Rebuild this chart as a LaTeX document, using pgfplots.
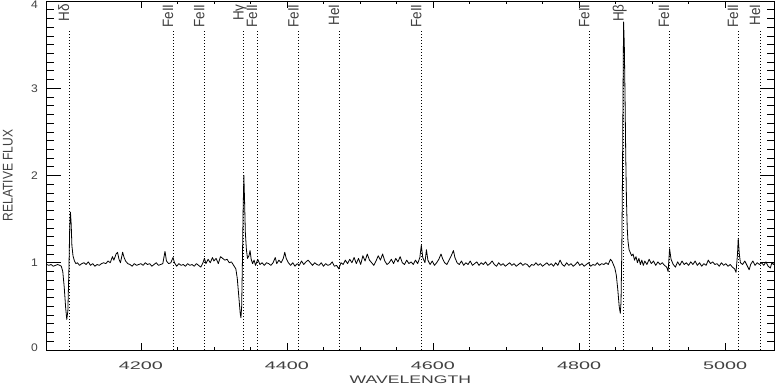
\documentclass[border=0pt]{standalone}
\usepackage{fontspec}
\setmainfont{Liberation Sans}
\newfontfamily\xtfont[FakeStretch=1.8]{Liberation Sans}
\newfontfamily\xlfont[FakeStretch=1.6]{Liberation Sans}
\newfontfamily\rotfont[FakeStretch=0.86]{Liberation Sans}
\newfontfamily\lblfont[FakeStretch=0.9]{Liberation Sans}
\newfontfamily\ytfont[FakeStretch=1.1]{Liberation Sans}
\usepackage{pgfplots}
\usepackage{pgfplotstable}
\pgfplotsset{compat=1.18}

\pgfplotstableread{
lam flux
4071 0.98
4074 0.97
4077 0.98
4080 0.96
4083 0.97
4086 0.98
4089 0.97
4091 0.96
4093 0.90
4095 0.72
4097 0.48
4098.5 0.35
4100 0.45
4101.5 0.95
4102.5 1.40
4103.5 1.58
4104.5 1.45
4105.5 1.20
4107 1.08
4109 1.02
4111 0.99
4113 1.00
4116 0.97
4119 0.99
4122 1.00
4125 0.98
4128 1.01
4131 0.97
4134 0.99
4137 0.96
4140 0.98
4143 0.97
4146 0.99
4149 1.00
4152 0.99
4155 1.02
4158 1.00
4161 1.07
4163 1.03
4166 1.10
4168 1.12
4170 1.04
4172 1.00
4175 1.12
4177 1.06
4179 1.02
4182 0.99
4185 0.98
4188 0.96
4191 0.99
4194 0.97
4197 0.98
4200 0.99
4203 0.97
4206 1.00
4209 0.98
4212 0.99
4215 0.96
4218 0.98
4221 1.00
4224 0.97
4227 0.98
4230 0.99
4233 1.13
4235 1.02
4238 0.99
4241 1.00
4244 1.06
4246 1.00
4249 0.96
4252 0.99
4255 0.97
4258 0.98
4261 0.96
4264 0.99
4267 0.97
4270 0.98
4273 0.96
4276 0.99
4279 0.97
4282 0.95
4285 1.00
4287 1.05
4289 0.99
4292 1.04
4295 1.00
4298 1.06
4300 1.02
4303 1.05
4306 0.99
4309 1.07
4312 1.05
4315 1.03
4318 1.04
4321 1.00
4324 1.01
4327 0.97
4330 0.93
4332 0.82
4334 0.62
4336 0.42
4337 0.37
4338 0.50
4339 1.00
4340 1.60
4341 2.00
4342 1.70
4343 1.35
4344.5 1.15
4346 1.05
4348 1.08
4349.5 1.14
4351 1.04
4353 0.99
4355 1.03
4357 0.97
4360 1.04
4363 0.98
4366 1.00
4369 0.97
4372 1.00
4375 0.99
4378 0.97
4381 1.00
4384 1.06
4386 0.99
4389 1.03
4392 1.00
4395 1.05
4397 1.12
4399 1.05
4402 1.00
4405 0.97
4408 1.00
4411 0.96
4414 0.99
4417 0.97
4420 1.02
4423 0.98
4426 1.01
4429 1.03
4432 1.00
4435 0.97
4438 1.00
4441 0.98
4444 0.97
4447 1.00
4450 0.96
4453 0.99
4456 0.97
4459 0.98
4462 1.01
4465 0.96
4468 0.97
4471 0.93
4474 1.00
4477 0.98
4480 1.03
4483 0.99
4486 1.04
4489 1.00
4492 1.06
4495 0.99
4498 1.05
4501 0.98
4504 1.08
4507 1.02
4510 1.10
4513 1.03
4516 1.00
4519 0.97
4522 1.02
4525 1.08
4528 1.03
4531 1.10
4534 1.02
4537 0.98
4540 1.00
4543 1.04
4546 0.99
4549 1.05
4552 1.01
4555 1.07
4558 1.00
4561 0.98
4564 1.03
4567 0.99
4570 1.01
4573 0.98
4576 1.03
4579 0.99
4582 1.06
4584 1.20
4586 1.06
4589 1.00
4591 1.15
4593 1.03
4596 0.98
4599 1.02
4602 0.97
4605 1.00
4608 1.04
4611 1.10
4613 1.05
4616 1.00
4619 0.98
4622 1.03
4625 1.08
4628 1.14
4630 1.06
4633 1.00
4636 0.98
4639 1.02
4642 0.97
4645 1.00
4648 0.98
4651 1.02
4654 0.97
4657 0.99
4660 1.01
4663 0.97
4666 1.00
4669 0.98
4672 1.01
4675 0.97
4678 0.99
4681 1.02
4684 0.98
4687 0.96
4690 1.00
4693 0.97
4696 0.99
4699 0.96
4702 0.98
4705 1.00
4708 0.97
4711 0.99
4714 0.96
4717 0.98
4720 1.00
4723 0.97
4726 0.99
4729 0.98
4732 0.95
4735 0.98
4738 0.97
4741 1.00
4744 0.97
4747 0.99
4750 0.96
4753 0.98
4756 1.00
4759 0.97
4762 0.99
4765 0.96
4768 1.00
4771 0.97
4774 1.03
4777 0.98
4780 0.96
4783 1.00
4786 0.97
4789 0.99
4792 0.96
4795 0.98
4798 1.01
4801 0.97
4804 0.99
4807 0.96
4810 0.98
4813 1.00
4816 0.96
4819 0.98
4822 0.97
4825 1.00
4828 0.97
4831 0.99
4834 0.98
4837 1.00
4840 0.98
4843 1.04
4845 1.02
4847 0.98
4849 0.94
4851 0.86
4853 0.70
4855 0.50
4856.5 0.42
4857.5 0.55
4858.5 1.10
4859.5 2.00
4860.3 3.00
4861 3.76
4862 3.50
4863 2.90
4864 2.20
4865 1.70
4866 1.40
4867 1.25
4868.5 1.15
4870 1.12
4872 1.08
4874 1.10
4876 1.03
4878 1.07
4880 1.00
4882 1.05
4884 0.98
4886 1.03
4888 0.97
4890 1.02
4893 0.98
4896 1.04
4899 0.99
4902 1.02
4905 0.97
4908 1.01
4911 0.98
4914 1.00
4917 0.97
4920 0.95
4922 0.90
4924 1.16
4926 1.04
4929 0.98
4932 0.95
4935 1.01
4938 0.97
4941 1.02
4944 0.98
4947 1.00
4950 0.97
4953 1.01
4956 0.98
4959 1.02
4962 0.97
4965 1.00
4968 0.96
4971 0.99
4974 0.97
4977 1.03
4980 0.99
4983 1.01
4986 0.98
4989 0.99
4992 0.96
4995 1.00
4998 0.97
5001 0.99
5004 0.96
5007 0.98
5010 0.95
5013 0.93
5015 0.89
5017 1.10
5018 1.28
5019.5 1.10
5021 1.00
5024 0.98
5027 1.02
5030 0.97
5033 0.92
5035 0.98
5038 1.02
5041 0.97
5044 1.00
5047 0.98
5050 1.00
5053 0.97
5056 1.01
5059 0.96
5062 0.94
5064 1.00
5066 0.98
5068 1.00
}\spec

\pgfplotstableread{
lam top
4101.7 3.67
4244 3.67
4287 3.67
4340.8 3.67
4359 3.67
4416 3.67
4471.5 3.67
4584 3.67
4814 3.67
4861 3.67
4923.5 3.67
5018 3.67
5048 3.67
}\lines

\tikzset{lbl/.style={rotate=90, anchor=base east, inner sep=0pt, text=black!75,
  font=\lblfont\fontsize{15pt}{15pt}\selectfont}}

\begin{document}
\begin{tikzpicture}
% axis carrying the x ticks
\begin{axis}[
  at={(0,0)}, anchor=south west,
  scale only axis, width=727.3pt, height=349pt,
  xmin=4071, xmax=5067, ymin=0, ymax=4,
  xtick={4200,4400,4600,4800,5000},
  xticklabels={4200,4400,4600,4800,5000},
  minor x tick num=3,
  ytick=\empty,
  major tick length=7pt, minor tick length=3.5pt,
  tick align=inside,
  axis line style={black, line width=0.8pt},
  every tick/.style={black, line width=0.7pt},
  xticklabel style={font=\xtfont\fontsize{11pt}{11pt}\selectfont, text=black!75,
    anchor=north, inner sep=0pt, yshift=-11.5pt},
  xlabel={WAVELENGTH},
  xlabel style={at={(axis description cs:0.5,0)}, anchor=north, inner sep=0pt,
    yshift=-26pt, text=black!75, font=\xlfont\fontsize{11pt}{11pt}\selectfont},
]
\end{axis}
% axis carrying the y ticks and the data
\begin{axis}[
  at={(0,0)}, anchor=south west,
  scale only axis, width=727.3pt, height=349pt,
  xmin=4071, xmax=5067, ymin=0, ymax=4,
  xtick=\empty,
  ytick={0,1,2,3,4},
  yticklabels={\raisebox{2pt}[\height][0pt]{0},1,2,3,\raisebox{-4pt}[\height][0pt]{4}},
  minor y tick num=9,
  major tick length=14.5pt, minor tick length=7.3pt,
  tick align=inside,
  axis line style={black, line width=0.8pt},
  every tick/.style={black, line width=0.7pt},
  yticklabel style={font=\ytfont\fontsize{11pt}{11pt}\selectfont, text=black!75,
    anchor=east, inner sep=0pt, xshift=-8.7pt},
  ylabel={RELATIVE FLUX},
  ylabel style={at={(axis description cs:0,0.5)}, anchor=south, inner sep=0pt,
    yshift=33.7pt, text=black!75, font=\rotfont\fontsize{14pt}{14pt}\selectfont},
]
\addplot[ycomb, black, line width=0.6pt, dash pattern=on 0.8pt off 2.2pt] table[x=lam, y=top] {\lines};
\addplot[black, line width=0.8pt, line join=round] table[x=lam, y=flux] {\spec};
\node[lbl] at (axis cs:4101.7,3.965) {Hδ};
\node[lbl] at (axis cs:4244,3.965) {FeII};
\node[lbl] at (axis cs:4287,3.965) {FeII};
\node[lbl] at (axis cs:4340.8,3.965) {Hγ};
\node[lbl] at (axis cs:4359,3.965) {FeII};
\node[lbl] at (axis cs:4416,3.965) {FeII};
\node[lbl] at (axis cs:4471.5,3.965) {HeI};
\node[lbl] at (axis cs:4584,3.965) {FeII};
\node[lbl] at (axis cs:4814,3.965) {FeII};
\node[lbl] at (axis cs:4861,3.965) {Hβ};
\node[lbl] at (axis cs:4923.5,3.965) {FeII};
\node[lbl] at (axis cs:5018,3.965) {FeII};
\node[lbl] at (axis cs:5048,3.965) {HeI};
\end{axis}
\pgfresetboundingbox
\useasboundingbox (-46.7pt,-36pt) rectangle (729.3pt,350pt);
\end{tikzpicture}
\end{document}
